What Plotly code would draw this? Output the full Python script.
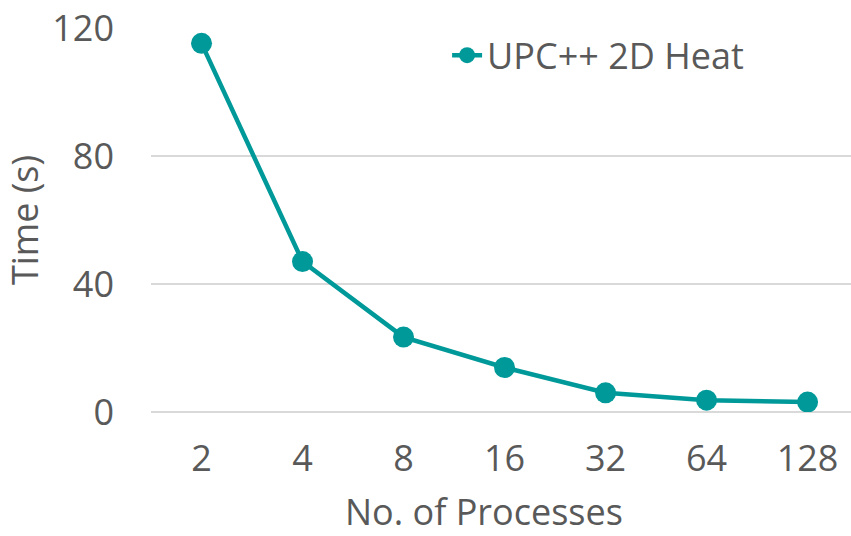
import plotly.graph_objects as go

processes = ["2", "4", "8", "16", "32", "64", "128"]
time_s = [115.2, 47.0, 23.4, 13.9, 6.0, 3.7, 3.1]
y_ticks = [0, 40, 80, 120]

teal = "#009999"
txt = "#595959"
font_family = "Open Sans"
fs = 36

fig = go.Figure()
fig.add_trace(go.Scatter(
    x=processes, y=time_s, mode="lines+markers", name="UPC++ 2D Heat",
    line=dict(color=teal, width=4.5),
    marker=dict(color=teal, size=21),
))

fig.update_layout(
    width=851, height=536,
    margin=dict(l=151, r=0, t=28, b=124),
    plot_bgcolor="white", paper_bgcolor="white",
    font=dict(family=font_family, color=txt, size=fs),
    showlegend=True,
    legend=dict(x=0.423, y=1.007, xanchor="left", yanchor="top",
                font=dict(size=fs, color=txt), bgcolor="rgba(0,0,0,0)"),
    xaxis=dict(type="category", range=[-0.5, 6.43], showgrid=False,
               showline=False, zeroline=False, ticks="",
               ticklabelstandoff=22,
               tickfont=dict(size=fs, color=txt)),
    yaxis=dict(range=[0, 120], tickvals=y_ticks, showgrid=True,
               gridcolor="#d9d9d9", gridwidth=1.5, zeroline=True,
               zerolinecolor="#d9d9d9", zerolinewidth=1.5,
               showline=False, ticks="", ticklabelstandoff=36,
               tickfont=dict(size=fs, color=txt),
               title=dict(text="Time (s)", font=dict(size=fs, color=txt), standoff=6)),
    annotations=[dict(text="No. of Processes", xref="paper", yref="paper",
                      x=0.476, y=-0.26, xanchor="center", yanchor="middle",
                      showarrow=False, font=dict(size=fs, color=txt))],
)

fig.write_html("out.html")
